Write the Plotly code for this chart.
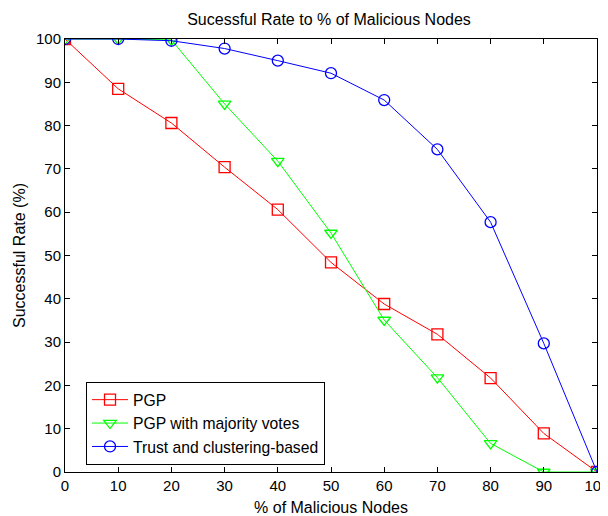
import plotly.graph_objects as go

x_vals = [0, 10, 20, 30, 40, 50, 60, 70, 80, 90, 100]
pgp = [100, 88.5, 80.6, 70.4, 60.6, 48.4, 38.8, 31.8, 21.7, 8.9, 0]
pgp_majority = [100, 100, 99.8, 85.0, 71.8, 55.2, 35.1, 21.8, 6.6, 0, 0]
trust_cluster = [100, 100, 99.6, 97.8, 95.0, 92.1, 85.9, 74.5, 57.7, 29.7, 0]

series = [
    ("PGP", pgp, "#ff0000", "square-open"),
    ("PGP with majority votes", pgp_majority, "#00ff00", "triangle-down-open"),
    ("Trust and clustering-based", trust_cluster, "#0000ff", "circle-open"),
]

fig = go.Figure()
for name, ys, color, sym in series:
    fig.add_trace(go.Scatter(
        x=x_vals, y=ys, mode="lines+markers", name=name,
        line=dict(color=color, width=1),
        marker=dict(symbol=sym, size=11, color=color, line=dict(color=color, width=1.3)),
    ))

axis_common = dict(
    showgrid=False, zeroline=False, showline=True, linecolor="black", linewidth=1,
    mirror="ticks", ticks="inside", ticklen=5, tickcolor="black",
    tickfont=dict(family="Liberation Sans, Arial", size=15, color="black"),
    dtick=10, automargin=False, ticklabeloverflow="allow",
)

# The page body has an 8px default margin, so the figure is sized/offset to compensate.
fig.update_layout(
    width=600, height=508,
    margin=dict(l=57, r=11, t=31, b=44, autoexpand=False),
    paper_bgcolor="white", plot_bgcolor="white",
    font=dict(family="Liberation Sans, Arial", size=16, color="black"),
    title=dict(text="Sucessful Rate to % of Malicious Nodes", x=0.535, xanchor="center",
               y=0.978, yanchor="middle", font=dict(size=16)),
    xaxis=dict(range=[0, 100], title=dict(text="% of Malicious Nodes", standoff=8, font=dict(size=16)), **axis_common),
    yaxis=dict(range=[0, 100], title=dict(text="Successful Rate (%)", standoff=6, font=dict(size=16)), **axis_common),
    legend=dict(x=0.0395, y=0.208, xanchor="left", yanchor="top",
                bgcolor="white", bordercolor="black", borderwidth=1,
                font=dict(size=15.7), tracegroupgap=0, itemwidth=36),
    showlegend=True,
)

fig.write_html("out.html")
